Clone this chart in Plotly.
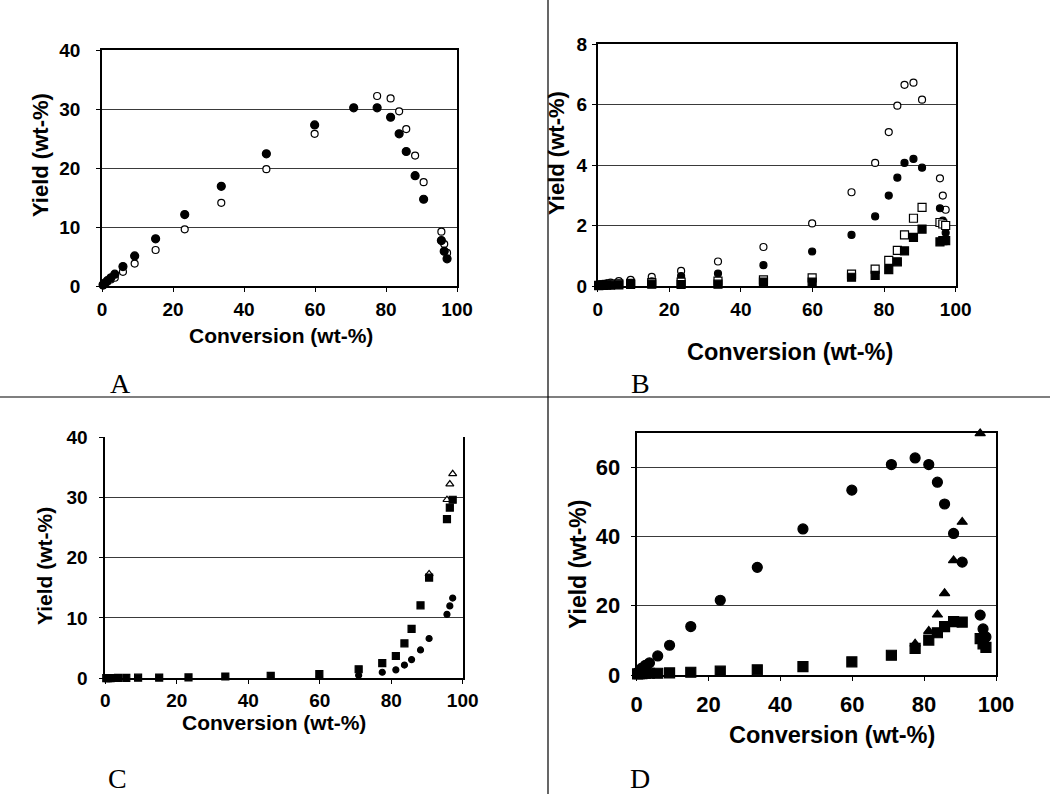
import plotly.graph_objects as go

W, H = 1050, 794

# Conversion levels (wt-%) shared by all runs
conversion = [0.3, 0.8, 1.5, 2.5, 3.6, 5.9, 9.2, 15.1, 23.3, 33.6, 46.3, 59.9,
              70.9, 77.5, 81.3, 83.7, 85.7, 88.2, 90.6, 95.6, 96.4, 97.2]

# Panel A yields (wt-%)
a_filled = [0.2, 0.5, 0.9, 1.4, 2.0, 3.3, 5.1, 8.0, 12.1, 16.9, 22.4, 27.3,
            30.2, 30.2, 28.6, 25.8, 22.8, 18.7, 14.7, 7.7, 5.9, 4.6]
a_open = [0.1, 0.4, 0.7, 1.1, 1.4, 2.4, 3.8, 6.1, 9.6, 14.1, 19.8, 25.8,
          None, 32.2, 31.8, 29.6, 26.6, 22.1, 17.6, 9.2, 7.1, 5.6]

# Panel B yields (wt-%)
b_open_circ = [0.03, 0.05, 0.07, 0.09, 0.11, 0.16, 0.2, 0.3, 0.5, 0.81, 1.29, 2.07,
               3.1, 4.07, 5.09, 5.96, 6.65, 6.72, 6.16, 3.56, 2.99, 2.52]
b_fill_circ = [0.02, 0.03, 0.04, 0.05, 0.06, 0.08, 0.1, 0.15, 0.33, 0.41, 0.69, 1.14,
               1.69, 2.3, 2.99, 3.58, 4.07, 4.2, 3.91, 2.57, 2.16, 1.76]
b_open_sq = [0.02, 0.03, 0.04, 0.05, 0.06, 0.07, 0.09, 0.11, 0.13, 0.16, 0.2, 0.27,
             0.39, 0.56, 0.85, 1.18, 1.69, 2.24, 2.6, 2.1, 2.05, 2.0]
b_fill_sq = [0.01, 0.02, 0.02, 0.03, 0.03, 0.04, 0.05, 0.06, 0.05, 0.06, 0.13, 0.13,
             0.29, 0.35, 0.54, 0.8, 1.16, 1.61, 1.88, 1.46, 1.5, 1.5]

# Panel C yields (wt-%)
c_square = [0.02, 0.03, 0.04, 0.05, 0.06, 0.08, 0.1, 0.12, 0.15, 0.3, 0.4, 0.7,
            1.5, 2.5, 3.7, 5.8, 8.2, 12.1, 16.7, 26.4, 28.3, 29.6]
c_circle = [None, None, None, None, None, None, None, None, None, None, None, 0.3,
            0.5, 1.0, 1.4, 2.2, 3.1, 4.7, 6.6, 10.6, 12.0, 13.3]
c_triangle = [None] * 18 + [17.3, 29.6, 32.2, 33.9]

# Panel D yields (wt-%)
d_circle = [0.5, 1.2, 2.0, 2.8, 3.5, 5.5, 8.6, 14.0, 21.6, 31.1, 42.2, 53.4,
            60.8, 62.7, 60.8, 55.7, 49.4, 40.9, 32.6, 17.3, 13.3, 11.0]
d_square = [0.3, 0.4, 0.4, 0.5, 0.5, 0.5, 0.6, 0.8, 1.1, 1.5, 2.4, 3.8,
            5.7, 7.7, 10.1, 12.2, 14.0, 15.4, 15.3, 10.5, 9.0, 8.0]
d_triangle = [None] * 13 + [9.0, 12.7, 17.4, 23.6, 33.1, 44.2, 69.8, None, None]

x_ticks = [0, 20, 40, 60, 80, 100]

FONT = "Liberation Sans, Arial, sans-serif"
BLACK = "#000000"
GRID = "#3a3a3a"


def px_x(p):
    return p / W


def px_y(p):
    return 1 - p / H


fig = go.Figure()


def add(xs, ys, ax, symbol, size, filled):
    fig.add_trace(go.Scatter(
        x=xs, y=ys, mode="markers", xaxis="x" + ax, yaxis="y" + ax,
        cliponaxis=False, showlegend=False,
        marker=dict(symbol=symbol, size=size,
                    color=BLACK if filled else "white",
                    line=dict(color=BLACK, width=1.2)),
    ))


# A
add(conversion, a_open, "", "circle", 7, False)
add(conversion, a_filled, "", "circle", 8, True)
# B
add(conversion, b_open_circ, "2", "circle", 7, False)
add(conversion, b_fill_circ, "2", "circle", 7, True)
add(conversion, b_open_sq, "2", "square", 8, False)
add(conversion, b_fill_sq, "2", "square", 8, True)
# C
add(conversion, c_triangle, "3", "triangle-up", 7, False)
add(conversion, c_square, "3", "square", 7, True)
add(conversion, c_circle, "3", "circle", 6, True)
# D
add(conversion, d_circle, "4", "circle", 10, True)
add(conversion, d_square, "4", "square", 10, True)
add(conversion, d_triangle, "4", "triangle-up", 9, True)


def xaxis(dom, anchor, size, standoff, mirror=True):
    return dict(domain=dom, anchor=anchor, range=[0, 100], tickvals=x_ticks,
                automargin=False,
                showgrid=False, zeroline=False, showline=True, linecolor=BLACK,
                linewidth=1.5, mirror=mirror, ticks="outside", ticklen=4,
                tickcolor=BLACK, ticklabelstandoff=standoff,
                tickfont=dict(family=FONT, size=size, color=BLACK, weight="bold"))


def yaxis(dom, anchor, rng, ticks, size, standoff, mirror=True):
    return dict(domain=dom, anchor=anchor, range=rng, tickvals=ticks,
                automargin=False,
                showgrid=True, gridcolor=GRID, gridwidth=1, zeroline=False,
                showline=True, linecolor=BLACK, linewidth=1.5, mirror=mirror,
                ticks="outside", ticklen=4, tickcolor=BLACK,
                ticklabelstandoff=standoff,
                tickfont=dict(family=FONT, size=size, color=BLACK, weight="bold"))


layout = dict(
    width=W, height=H, margin=dict(l=0, r=0, t=0, b=0, autoexpand=False),
    paper_bgcolor="white", plot_bgcolor="white",
    xaxis=xaxis([px_x(102), px_x(457)], "y", 19, 1),
    yaxis=yaxis([px_y(286), px_y(50)], "x", [0, 40], [0, 10, 20, 30, 40], 19, 12),
    xaxis2=xaxis([px_x(597.7), px_x(955.7)], "y2", 19, 1),
    yaxis2=yaxis([px_y(286), px_y(44)], "x2", [0, 8], [0, 2, 4, 6, 8], 19, 1),
    xaxis3=xaxis([px_x(105.2), px_x(462.7)], "y3", 19, 0, mirror=False),
    yaxis3=yaxis([px_y(678.3), px_y(437)], "x3", [0, 40], [0, 10, 20, 30, 40], 19, 8),
    xaxis4=xaxis([px_x(636.5), px_x(996)], "y4", 22, 5),
    yaxis4=yaxis([px_y(675), px_y(432.7)], "x4", [0, 70], [0, 20, 40, 60], 22, 6),
)
fig.update_layout(**layout)

annotations = []


def text(x, y, s, size, angle=0, bold=True, family=FONT):
    annotations.append(dict(
        x=px_x(x), y=px_y(y), xref="paper", yref="paper", showarrow=False,
        text="<b>%s</b>" % s if bold else s, textangle=angle,
        xanchor="center", yanchor="middle",
        font=dict(family=family, size=size, color=BLACK)))


# axis titles
text(40, 155, "Yield (wt-%)", 22, -90)
text(281, 336, "Conversion (wt-%)", 21)
text(556, 153, "Yield (wt-%)", 22, -90)
text(790, 352, "Conversion (wt-%)", 23.5)
text(44, 566, "Yield (wt-%)", 21, -90)
text(274, 722, "Conversion (wt-%)", 21)
text(578, 565, "Yield (wt-%)", 23, -90)
text(832, 735, "Conversion (wt-%)", 23.5)

# panel letters
SERIF = "Liberation Serif, Times New Roman, serif"
text(120, 383, "A", 28, bold=False, family=SERIF)
text(640, 383, "B", 28, bold=False, family=SERIF)
text(117, 778, "C", 28, bold=False, family=SERIF)
text(640, 778, "D", 28, bold=False, family=SERIF)

fig.update_layout(annotations=annotations)

# quadrant dividers
fig.add_shape(type="line", xref="paper", yref="paper",
              x0=px_x(548), x1=px_x(548), y0=0, y1=1,
              line=dict(color=BLACK, width=1.2))
fig.add_shape(type="line", xref="paper", yref="paper",
              x0=0, x1=1, y0=px_y(397), y1=px_y(397),
              line=dict(color=BLACK, width=1.2))

fig.write_html("out.html")
